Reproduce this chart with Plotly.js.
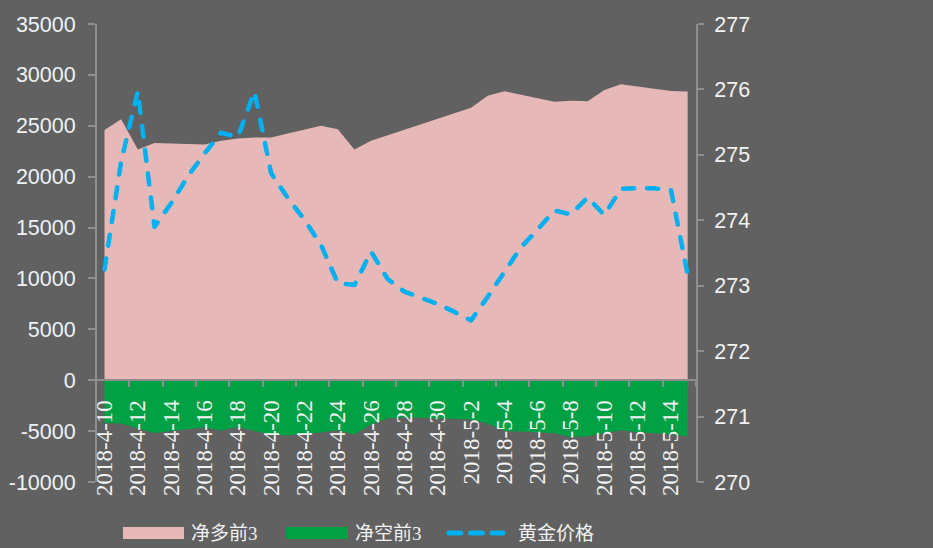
<!DOCTYPE html>
<html>
<head>
<meta charset="utf-8">
<script src="https://cdn.plot.ly/plotly-3.0.1.min.js"></script>
<style>
  html, body { margin: 0; padding: 0; background: #616161; }
  .scatterlayer .js-line { stroke-linecap: round; stroke-linejoin: round; }
  .shapelayer path { stroke-linecap: round; }
</style>
</head>
<body>
<div id="chart" style="width:933px;height:548px;"></div>
<script>
const dates = ['2018-4-10','2018-4-11','2018-4-12','2018-4-13','2018-4-14','2018-4-15','2018-4-16','2018-4-17','2018-4-18','2018-4-19','2018-4-20','2018-4-21','2018-4-22','2018-4-23','2018-4-24','2018-4-25','2018-4-26','2018-4-27','2018-4-28','2018-4-29','2018-4-30','2018-5-1','2018-5-2','2018-5-3','2018-5-4','2018-5-5','2018-5-6','2018-5-7','2018-5-8','2018-5-9','2018-5-10','2018-5-11','2018-5-12','2018-5-13','2018-5-14','2018-5-15'];
const netLong = [24575,25630,22680,23300,23250,23200,23150,23530,23760,23860,23860,24250,24600,25000,24670,22680,23530,24100,24600,25150,25700,26250,26770,27950,28400,28050,27700,27360,27460,27420,28510,29070,28850,28630,28410,28380];
const netShort = [-4200,-4250,-4750,-5180,-5000,-4800,-4650,-4950,-4600,-5000,-5340,-5440,-5300,-5140,-4920,-5340,-4350,-3770,-3650,-3700,-3750,-3800,-3850,-4250,-5000,-5050,-5100,-5200,-5570,-5500,-5180,-4920,-5100,-5200,-5300,-5530];
const goldPrice = [273.25,274.9,275.97,273.9,274.26,274.67,275.02,275.34,275.27,275.97,274.72,274.34,274.01,273.62,273.04,273.01,273.52,273.10,272.91,272.81,272.72,272.60,272.47,272.83,273.20,273.59,273.86,274.15,274.09,274.35,274.08,274.48,274.49,274.49,274.46,273.17];
const seriesNames = ['净多前3','净空前3','黄金价格'];
const leftTicks = [-10000,-5000,0,5000,10000,15000,20000,25000,30000,35000];
const leftTickText = ['-10000','-5000','0','5000','10000','15000','20000','25000','30000','35000'];
const rightTicks = [270,271,272,273,274,275,276,277];
const rightTickText = ['270','271','272','273','274','275','276','277'];

const idx = dates.map((d,i)=>i);
const tickvals = idx.filter(i=>i%2===0);
const ticktext = tickvals.map(i=>dates[i]);
const minorVals = tickvals.map(i=>i+1.5);

const axisColor = '#8e8e8e';
const textColor = '#f2f2f2';
const pink = '#e6b8b7';
const green = '#00a145';
const blue = '#00b0f0';

const traces = [
  {x: idx, y: netLong, type:'scatter', mode:'lines', fill:'tozeroy', fillcolor:pink, line:{width:0, color:pink}, name:seriesNames[0], hoverinfo:'skip'},
  {x: idx, y: netShort, type:'scatter', mode:'lines', fill:'tozeroy', fillcolor:green, line:{width:0, color:green}, name:seriesNames[1], hoverinfo:'skip'},
  {x: idx, y: goldPrice, type:'scatter', mode:'lines', yaxis:'y2', line:{width:4.5, color:blue, dash:'11px,13px'}, name:seriesNames[2], hoverinfo:'skip'}
];

const W = 599, H = 458, L = 97, T = 24;
function px(x){ return (x - L)/W; }
function py(y){ return (T + H - y)/H; }

const legendFont = {family:'Liberation Serif, Noto Sans CJK SC, serif', size:19, color:textColor};
const numFont = {family:'Liberation Sans, Arial, sans-serif', size:21.5, color:textColor};

const layout = {
  width:933, height:548,
  paper_bgcolor:'#616161', plot_bgcolor:'#616161',
  margin:{l:97, r:237, t:24, b:66, pad:0},
  showlegend:false,
  xaxis:{
    range:[-0.45,35.5], tickmode:'array', tickvals:tickvals, ticktext:ticktext, tickangle:-90,
    ticks:'', anchor:'free', position:(482-380)/458,
    showline:true, linecolor:axisColor, linewidth:2, showgrid:false, zeroline:false,
    tickfont:{family:'Liberation Serif, serif', size:23, color:textColor},
    ticklabelstandoff:10,
    minor:{tickmode:'array', tickvals:minorVals, ticks:'outside', ticklen:6, tickwidth:2, tickcolor:axisColor, showgrid:false}
  },
  yaxis:{
    range:[-10000,35000], tickmode:'array', tickvals:leftTicks, ticktext:leftTickText,
    ticks:'outside', ticklen:7, tickwidth:2, tickcolor:axisColor,
    showline:true, linecolor:axisColor, linewidth:2, showgrid:false, zeroline:false,
    tickfont:numFont, ticklabelstandoff:8
  },
  yaxis2:{
    overlaying:'y', side:'right', range:[270,277], tickmode:'array', tickvals:rightTicks, ticktext:rightTickText,
    ticks:'outside', ticklen:6, tickwidth:2, tickcolor:axisColor,
    showline:true, linecolor:axisColor, linewidth:2, showgrid:false, zeroline:false,
    tickfont:numFont, ticklabelstandoff:6
  },
  shapes:[
    {type:'rect', xref:'paper', yref:'paper', x0:px(123), x1:px(184), y0:py(539), y1:py(527), fillcolor:pink, line:{width:0}},
    {type:'rect', xref:'paper', yref:'paper', x0:px(286), x1:px(348), y0:py(539), y1:py(527), fillcolor:green, line:{width:0}},
    {type:'line', xref:'paper', yref:'paper', x0:px(449), x1:px(503), y0:py(533), y1:py(533), line:{color:blue, width:5, dash:'12px,9.5px'}}
  ],
  annotations:[
    {xref:'paper', yref:'paper', x:px(189), y:py(533), xanchor:'left', yanchor:'middle', text:seriesNames[0], showarrow:false, font:legendFont},
    {xref:'paper', yref:'paper', x:px(353), y:py(533), xanchor:'left', yanchor:'middle', text:seriesNames[1], showarrow:false, font:legendFont},
    {xref:'paper', yref:'paper', x:px(516), y:py(533), xanchor:'left', yanchor:'middle', text:seriesNames[2], showarrow:false, font:legendFont}
  ]
};

Plotly.newPlot('chart', traces, layout, {displayModeBar:false, staticPlot:true});
</script>
</body>
</html>
